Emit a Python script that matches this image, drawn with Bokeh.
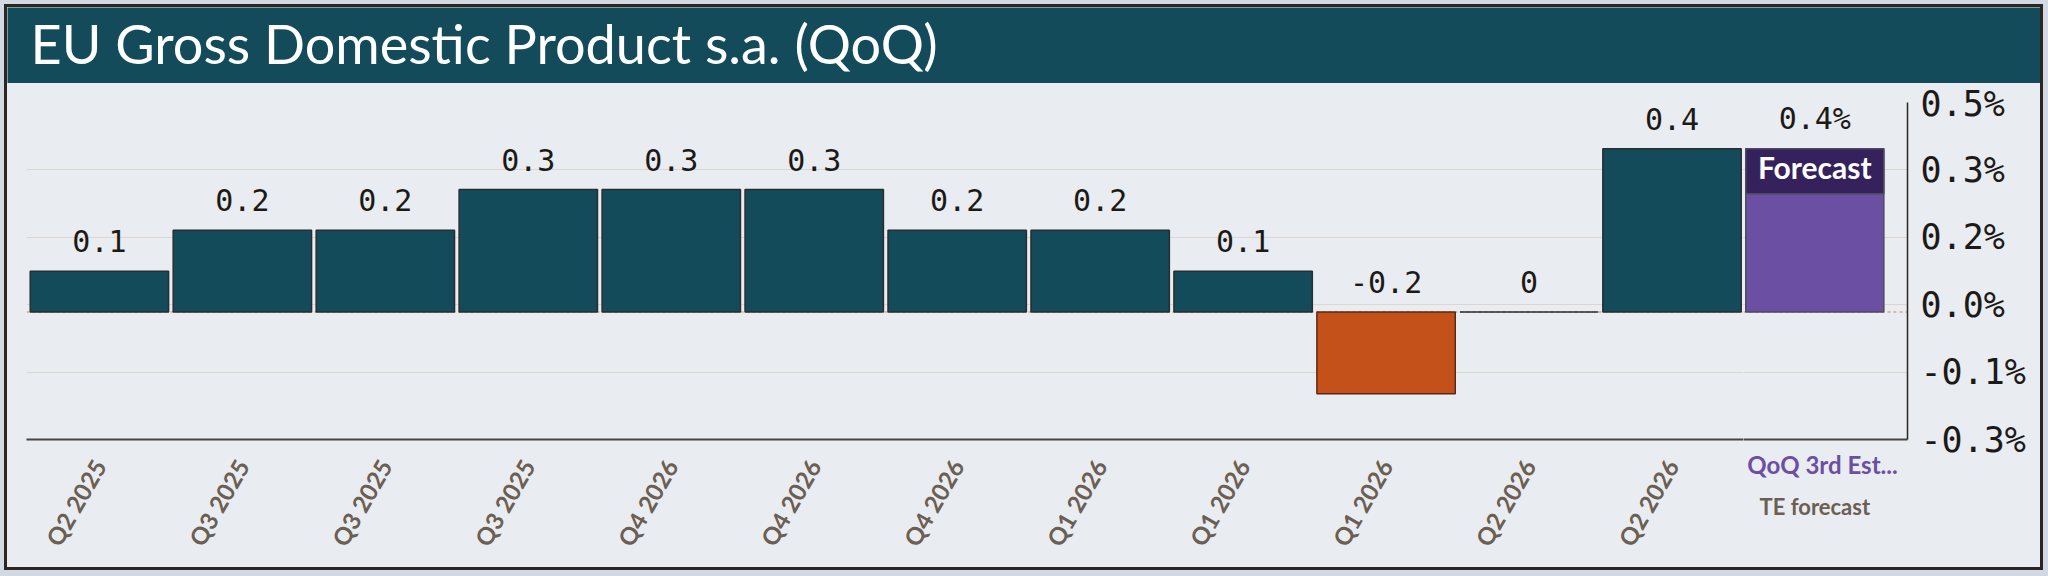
import math
from bokeh.plotting import figure
from bokeh.models import FixedTicker, Span, LinearAxis
from bokeh.layouts import column, row
from bokeh.core.properties import value
from bokeh.embed import file_html
from bokeh.resources import INLINE

# ---------------- data ----------------
title_text = "EU Gross Domestic Product s.a. (QoQ)"
categories = ["Q2 2025", "Q3 2025", "Q3 2025", "Q3 2025", "Q4 2026", "Q4 2026",
              "Q4 2026", "Q1 2026", "Q1 2026", "Q1 2026", "Q2 2026", "Q2 2026"]
values = [0.1, 0.2, 0.2, 0.3, 0.3, 0.3, 0.2, 0.2, 0.1, -0.2, 0.0, 0.4]
value_labels = ["0.1", "0.2", "0.2", "0.3", "0.3", "0.3", "0.2", "0.2", "0.1", "-0.2", "0", "0.4"]
forecast_category = "QoQ 3rd Est..."
forecast_sub = "TE forecast"
forecast_value = 0.4
forecast_label = "0.4%"
forecast_tag = "Forecast"
y_ticks = [-0.312, -0.147, 0.018, 0.183, 0.348, 0.513]
y_tick_labels = ["-0.3%", "-0.1%", "0.0%", "0.2%", "0.3%", "0.5%"]

# ---------------- style ----------------
TEAL = "#134b5b"
ORANGE = "#c4511a"
PURPLE = "#6b4fa3"
PURPLE_DARK = "#35215c"
BG = "#e9ecf1"
INK = "#1c1a17"
CAT = "#6b5e52"
GRID = "#ddd6cf"
MONO = "DejaVu Sans Mono"
SANS = "Lato"

W = 2033
H_HEAD = 76
H_MAIN = 484
ML, MR, MT, MB = 19, 133, 19, 128
Y0, Y1 = y_ticks[0], y_ticks[-1]
PPU = (H_MAIN - MT - MB) / (Y1 - Y0)
BAR_W = 0.968
PX_PER_CAT = 142.95

xs = list(range(len(categories)))
fx = len(categories)
X_LEFT = -0.51
X_SPLIT = fx - 0.5
X_RIGHT = fx + 0.65
LEFT_FRAME = round((X_SPLIT - X_LEFT) * PX_PER_CAT)
RIGHT_FRAME = W - ML - MR - LEFT_FRAME

# ---------------- header ----------------
hf = figure(width=W, height=H_HEAD, x_range=(0, W), y_range=(0, H_HEAD),
            output_backend="svg", toolbar_location=None, title_location=None,
            x_axis_location=None, y_axis_location=None, min_border=0,
            background_fill_color=TEAL, border_fill_color=TEAL, outline_line_color=None)
hf.grid.visible = False
hf.text(x=[23], y=[40], text=[title_text], text_font=value(SANS), text_font_size="54px",
        text_color="white", text_baseline="alphabetic", text_align="left")


def base_fig(width, x_range, **kw):
    f = figure(width=width, height=H_MAIN, x_range=x_range, y_range=(Y0, Y1),
               output_backend="svg", toolbar_location=None, title_location=None,
               min_border_top=MT, min_border_bottom=MB,
               background_fill_color=BG, border_fill_color=BG, outline_line_color=None, **kw)
    f.xgrid.visible = False
    f.ygrid.ticker = FixedTicker(ticks=y_ticks)
    f.ygrid.grid_line_color = GRID
    f.ygrid.grid_line_width = 1
    f.add_layout(Span(location=0, dimension="width", line_color="#e3a286",
                      line_dash="3 3", line_width=1.5, level="underlay"))
    return f


def style_xaxis(ax):
    ax.major_tick_line_color = None
    ax.minor_tick_line_color = None
    ax.axis_line_color = "#4a4541"
    ax.axis_line_width = 2


# ---------------- left (history) ----------------
pl = base_fig(ML + LEFT_FRAME, (X_LEFT, X_SPLIT), y_axis_location=None,
              min_border_left=ML, min_border_right=0)

colors = [TEAL if v >= 0 else ORANGE for v in values]
lines = ["#2a2d2e" if v >= 0 else "#5a2a10" for v in values]
pl.vbar(x=xs, top=values, bottom=0, width=BAR_W, fill_color=colors,
        line_color=lines, line_width=1.5)
pl.text(x=xs, y=[max(v, 0) for v in values], text=value_labels, text_align="center",
        text_baseline="alphabetic", y_offset=-30, text_font=value(MONO),
        text_font_size="30px", text_color=INK)

xa = pl.xaxis[0]
xa.ticker = FixedTicker(ticks=xs)
xa.major_label_overrides = {i: c for i, c in zip(xs, categories)}
xa.major_label_orientation = math.pi / 3
xa.major_label_standoff = 16
xa.major_label_text_font = SANS
xa.major_label_text_font_style = "bold"
xa.major_label_text_font_size = "24px"
xa.major_label_text_color = CAT
style_xaxis(xa)

# ---------------- right (forecast) ----------------
pr = base_fig(RIGHT_FRAME + MR, (X_SPLIT, X_RIGHT), y_axis_location="right",
              min_border_left=0, min_border_right=MR)

pr.vbar(x=[fx], top=[forecast_value], bottom=0, width=BAR_W, fill_color=PURPLE,
        line_color="#4d4a5c", line_width=1.5)
pr.vbar(x=[fx], top=[forecast_value], bottom=[forecast_value - 45 / PPU], width=BAR_W,
        fill_color=PURPLE_DARK, line_color="#4d4a5c", line_width=1.5)
pr.text(x=[fx], y=[forecast_value], text=[forecast_tag], text_align="center",
        text_baseline="middle", y_offset=18, text_font=value(SANS), text_font_style="bold",
        text_font_size="30px", text_color="white")
pr.text(x=[fx], y=[forecast_value], text=[forecast_label], text_align="center",
        text_baseline="alphabetic", y_offset=-30, text_font=value(MONO),
        text_font_size="30px", text_color=INK)

fa = pr.xaxis[0]
fa.ticker = FixedTicker(ticks=[fx])
fa.major_label_overrides = {fx: forecast_category}
fa.major_label_standoff = 4
fa.major_label_text_font = SANS
fa.major_label_text_font_style = "bold"
fa.major_label_text_font_size = "24px"
fa.major_label_text_color = PURPLE
style_xaxis(fa)

sa = LinearAxis(ticker=FixedTicker(ticks=[fx]), major_label_overrides={fx: forecast_sub},
                major_label_standoff=5, major_label_text_font=SANS,
                major_label_text_font_style="bold", major_label_text_font_size="22px",
                major_label_text_color=CAT, axis_line_color=None,
                major_tick_line_color=None, minor_tick_line_color=None)
pr.add_layout(sa, "below")

ya = pr.yaxis[0]
ya.ticker = FixedTicker(ticks=y_ticks)
ya.major_label_overrides = {t: l for t, l in zip(y_ticks, y_tick_labels)}
ya.major_tick_line_color = None
ya.minor_tick_line_color = None
ya.axis_line_color = "#2b2622"
ya.axis_line_width = 1.5
ya.major_label_standoff = 7
ya.major_label_text_font = MONO
ya.major_label_text_font_size = "35px"
ya.major_label_text_color = INK

body = row(pl, pr, spacing=0, styles={"background-color": BG})
layout = column(hf, body, spacing=0,
                styles={"margin": "7px 0 0 7px", "outline": "3px solid #2b2622",
                        "box-shadow": "0 0 0 12px #d3d9e2", "background-color": BG})

open("out.html", "w").write(file_html(layout, INLINE))
